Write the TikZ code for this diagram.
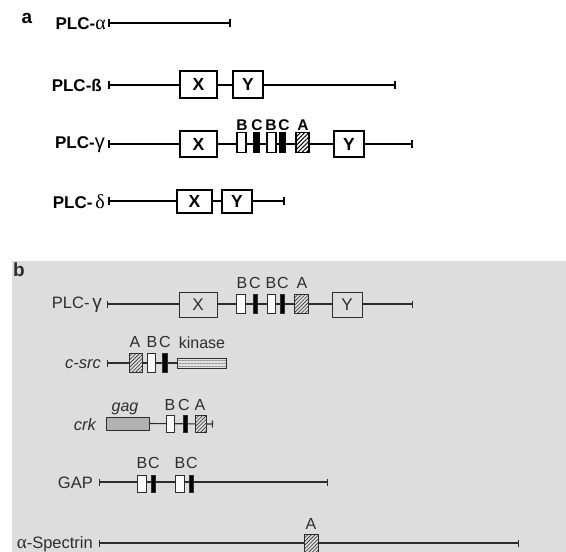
\documentclass[tikz,border=0pt]{standalone}
\usepackage{fontspec}
\setmainfont{Liberation Sans}
\newfontfamily\grkserif{Liberation Serif}
\newfontfamily\grksans{Liberation Sans}
\usetikzlibrary{arrows.meta,patterns.meta}
\definecolor{bgb}{RGB}{221,221,221}
\definecolor{inkb}{RGB}{45,45,45}
\definecolor{gagfill}{RGB}{178,178,178}
\definecolor{kinfill}{RGB}{225,225,225}
\newcommand\myfa{\fontsize{17}{20}\selectfont\bfseries}
\newcommand\myxa{\fontsize{17.5}{20}\selectfont\bfseries}
\newcommand\myla{\fontsize{15.5}{18}\selectfont\bfseries}
\newcommand\myfb{\fontsize{16.5}{19}\selectfont}
\newcommand\mylb{\fontsize{16}{18}\selectfont}
\newcommand\mygrk{\fontsize{20}{20}\selectfont}
\tikzset{
  namea/.style={anchor=east, inner sep=0pt, font=\myfa},
  nameb/.style={anchor=east, inner sep=0pt, font=\myfb, text=inkb},
  laba/.style={inner sep=0pt, font=\myla},
  labb/.style={inner sep=0pt, font=\mylb, text=inkb},
  backa/.style={line width=1.7pt, arrows={Bar[width=7.5pt]-Bar[width=7.5pt]}},
  backb/.style={line width=1.1pt, draw=inkb, arrows={Bar[width=7pt]-Bar[width=7pt]}},
  backbe/.style={line width=1.1pt, draw=inkb, arrows={-Bar[width=7pt]}},
  backbs/.style={line width=1.1pt, draw=inkb, arrows={Bar[width=7pt]-}},
  boxa/.style={draw, line width=1.4pt, fill=white, rectangle, inner sep=0pt, font=\myxa},
  hata/.style={draw, line width=1.4pt, rectangle, inner sep=0pt, preaction={fill=white},
     pattern={Lines[angle=45,distance=3pt,line width=1.1pt]}, pattern color=black},
  blka/.style={draw, line width=1.4pt, fill=black, rectangle, inner sep=0pt},
  boxb/.style={draw=inkb, line width=0.9pt, fill=bgb, rectangle, inner sep=0pt, font=\fontsize{17}{20}\selectfont, text=inkb},
  whtb/.style={draw=inkb, line width=0.9pt, fill=white!85!bgb, rectangle, inner sep=0pt},
  hatb/.style={draw=inkb, line width=0.9pt, rectangle, inner sep=0pt, preaction={fill=bgb},
     pattern={Lines[angle=45,distance=2.6pt,line width=0.6pt]}, pattern color=inkb},
  blkb/.style={draw=inkb, line width=0.9pt, fill=black, rectangle, inner sep=0pt},
  kinb/.style={draw=inkb, line width=0.9pt, rectangle, inner sep=0pt, preaction={fill=kinfill},
     pattern={Lines[angle=0,distance=3pt,line width=0.6pt]}, pattern color=gray!80},
  gagb/.style={draw=inkb, line width=0.9pt, fill=gagfill, rectangle, inner sep=0pt},
}
\begin{document}
\begin{tikzpicture}[x=1pt,y=-1pt]
\useasboundingbox (0,0) rectangle (566,552);
\fill[bgb] (12,261) rectangle (566,552);

% ---------------- part a ----------------
\node[inner sep=0pt, font=\fontsize{19}{21}\selectfont\bfseries] (pa) at (27,18) {a};

% PLC-alpha
\node[namea] (nAlpha) at (106,24) {PLC-{\grkserif\mdseries\mygrk α}};
\coordinate (alS) at (108,23); \coordinate (alE) at (231,23);
\draw[backa] (alS) -- (alE);

% PLC-beta
\node[namea] (nBeta) at (102,85) {PLC-ß};
\coordinate (beS) at (108,85); \coordinate (beE) at (396,85);
\draw[backa] (beS) -- (beE);
\node[boxa, minimum width=37, minimum height=27] (beX) at (198.5,84.5) {X};
\node[boxa, minimum width=30, minimum height=27] (beY) at (248,84.5) {Y};

% PLC-gamma
\node[namea] (nGamma) at (105,145) {PLC-{\grksans\mdseries\mygrk γ}};
\coordinate (gaS) at (108,144); \coordinate (gaE) at (413,144);
\draw[backa] (gaS) -- (gaE);
\node[boxa, minimum width=37, minimum height=26] (gaX) at (198.5,144) {X};
\node[boxa, minimum width=9, minimum height=20] (gaB1) at (241.5,142.5) {};
\node[blka, minimum width=6, minimum height=20] (gaC1) at (256.5,142.5) {};
\node[boxa, minimum width=9, minimum height=20] (gaB2) at (271.5,142.5) {};
\node[blka, minimum width=6, minimum height=20] (gaC2) at (282.5,142.5) {};
\node[hata, minimum width=13, minimum height=20] (gaA) at (302.5,142.5) {};
\node[boxa, minimum width=30, minimum height=26] (gaY) at (349,144) {Y};
\node[laba] (gaLB1) at (242,125) {B};
\node[laba] (gaLC1) at (257,125) {C};
\node[laba] (gaLB2) at (271,125) {B};
\node[laba] (gaLC2) at (284,125) {C};
\node[laba] (gaLA) at (303,125) {A};

% PLC-delta
\node[namea] (nDelta) at (105,202) {PLC-\,{\grkserif\mdseries\mygrk δ}};
\coordinate (deS) at (108,201); \coordinate (deE) at (285,201);
\draw[backa] (deS) -- (deE);
\node[boxa, minimum width=35, minimum height=23] (deX) at (194.5,201.5) {X};
\node[boxa, minimum width=30, minimum height=23] (deY) at (237,201.5) {Y};

% ---------------- part b ----------------
\node[inner sep=0pt, font=\fontsize{19}{21}\selectfont\bfseries, text=inkb] (pb) at (19,270) {b};

% PLC-gamma (b)
\node[nameb] (nGammaB) at (102,305) {PLC-\,{\grksans\fontsize{19}{19}\selectfont γ}};
\coordinate (gbS) at (107,304); \coordinate (gbE) at (413,304);
\draw[backb] (gbS) -- (gbE);
\node[boxb, minimum width=38, minimum height=25] (gbX) at (198,304.5) {X};
\node[whtb, minimum width=9, minimum height=19] (gbB1) at (240.5,303.5) {};
\node[blkb, minimum width=4, minimum height=19] (gbC1) at (255,303.5) {};
\node[whtb, minimum width=8, minimum height=19] (gbB2) at (271,303.5) {};
\node[blkb, minimum width=4.5, minimum height=19] (gbC2) at (282.5,303.5) {};
\node[hatb, minimum width=14, minimum height=19] (gbA) at (301,303.5) {};
\node[boxb, minimum width=30, minimum height=25] (gbY) at (347,304.5) {Y};
\node[labb] (gbLB1) at (242,283) {B};
\node[labb] (gbLC1) at (255,283) {C};
\node[labb] (gbLB2) at (271,283) {B};
\node[labb] (gbLC2) at (283,283) {C};
\node[labb] (gbLA) at (302,283) {A};

% c-src
\node[nameb, font=\myfb\itshape] (nSrc) at (101,364) {c-src};
\coordinate (srS) at (107,363);
\node[kinb, minimum width=49, minimum height=10] (srK) at (201.5,363) {};
\draw[backbs] (srS) -- (srK.west);
\node[hatb, minimum width=13, minimum height=19] (srA) at (135.5,362.5) {};
\node[whtb, minimum width=8, minimum height=19] (srB) at (151,362.5) {};
\node[blkb, minimum width=5, minimum height=19] (srC) at (165,362.5) {};
\node[labb] (srLA) at (135,342) {A};
\node[labb] (srLB) at (152,342) {B};
\node[labb] (srLC) at (165,342) {C};
\node[labb, anchor=base] (srLK) at (202,348) {kinase};

% crk
\node[nameb, font=\myfb\itshape] (nCrk) at (96,425) {crk};
\node[gagb, minimum width=43, minimum height=13] (crG) at (127.5,423.5) {};
\coordinate (crE) at (213,424);
\draw[backbe] (crG.east) -- (crE);
\node[whtb, minimum width=8, minimum height=17] (crB) at (170,423.5) {};
\node[blkb, minimum width=4, minimum height=17] (crC) at (185,423.5) {};
\node[hatb, minimum width=11, minimum height=17] (crA) at (200.5,423.5) {};
\node[labb, font=\mylb\itshape, anchor=base] (crLG) at (125,411) {gag};
\node[labb] (crLB) at (170,405) {B};
\node[labb] (crLC) at (184,405) {C};
\node[labb] (crLA) at (200,405) {A};

% GAP
\node[nameb] (nGap) at (93,483) {GAP};
\coordinate (gpS) at (99,482); \coordinate (gpE) at (328,482);
\draw[backb] (gpS) -- (gpE);
\node[whtb, minimum width=9, minimum height=17] (gpB1) at (141.5,483.5) {};
\node[blkb, minimum width=4, minimum height=17] (gpC1) at (153,483.5) {};
\node[whtb, minimum width=9, minimum height=17] (gpB2) at (179.5,483.5) {};
\node[blkb, minimum width=4, minimum height=17] (gpC2) at (191,483.5) {};
\node[labb] (gpLB1) at (142,463) {B};
\node[labb] (gpLC1) at (154,463) {C};
\node[labb] (gpLB2) at (180,463) {B};
\node[labb] (gpLC2) at (192,463) {C};

% alpha-Spectrin
\node[nameb] (nSpec) at (93,544) {{\grkserif\fontsize{19}{19}\selectfont α}-Spectrin};
\coordinate (spS) at (99,543); \coordinate (spE) at (519,543);
\draw[backb] (spS) -- (spE);
\node[hatb, minimum width=14, minimum height=20] (spA) at (311,544) {};
\node[labb] (spLA) at (311,524) {A};
\end{tikzpicture}
\end{document}
